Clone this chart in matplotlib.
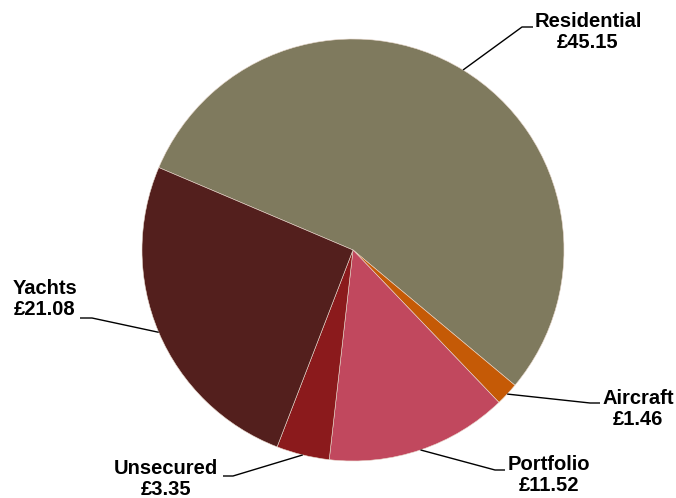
import numpy as np
import matplotlib
matplotlib.use('Agg')
import matplotlib.pyplot as plt

# chart data
categories = ['Residential', 'Aircraft', 'Portfolio', 'Unsecured', 'Yachts']
values = [45.15, 1.46, 11.52, 3.35, 21.08]
colours = ['#7f7a5e', '#c55a06', '#c1485e', '#8b1a1c', '#531f1d']

W, H = 676, 498
CENTER = (353, 250)   # image pixels
RADIUS = 211
START = 157           # degrees, slices go clockwise

# label layout in image pixels: text block centre, elbow, line end
label_pos = [(588, 32), (638, 409), (549, 475), (166, 479), (45, 299)]
elbows = [(522, 27), (590, 403), (495, 470), (233, 476), (92, 318)]
line_ends = [(533, 27), (600, 403), (505, 470), (223, 476), (80, 318)]

plt.rcParams['font.family'] = ['Liberation Sans', 'DejaVu Sans']


def fy(y):
    # image y -> data y
    return H - y


fig = plt.figure(figsize=(W / 100, H / 100), dpi=100)
ax = fig.add_axes([0, 0, 1, 1])
ax.set_xlim(0, W)
ax.set_ylim(0, H)
ax.set_aspect('equal')
ax.axis('off')

wedges, _ = ax.pie(values, colors=colours, startangle=START, counterclock=False,
                   center=(CENTER[0], fy(CENTER[1])), radius=RADIUS,
                   wedgeprops=dict(edgecolor='#e8d8cc', linewidth=0.4))
ax.set_xlim(0, W)
ax.set_ylim(0, H)

for w, name, val, tp, el, le in zip(wedges, categories, values, label_pos, elbows, line_ends):
    mid = np.deg2rad((w.theta1 + w.theta2) / 2)
    px = CENTER[0] + RADIUS * np.cos(mid)
    py = fy(CENTER[1]) + RADIUS * np.sin(mid)
    ax.plot([px, el[0], le[0]], [py, fy(el[1]), fy(le[1])], color='black', lw=1.0,
            solid_capstyle='butt')
    ax.text(tp[0], fy(tp[1]), f'{name}\n£{val:.2f}', ha='center', va='center',
            fontsize=14.5, fontweight='bold', linespacing=1.15, color='black')

fig.savefig('out.png', dpi=100)
